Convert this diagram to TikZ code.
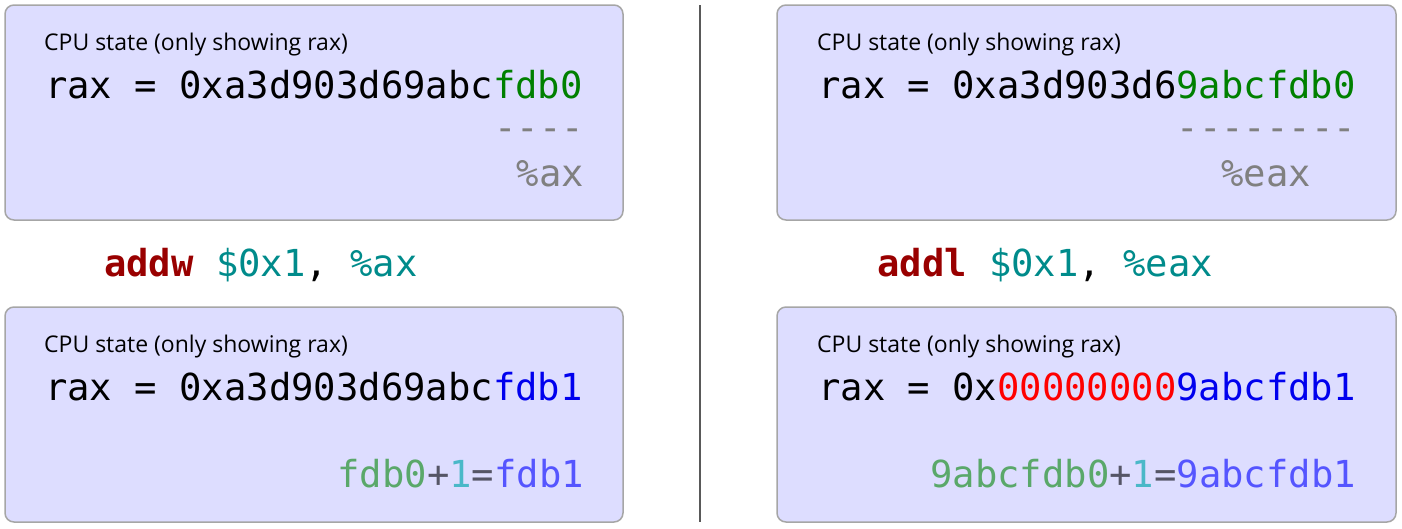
\documentclass[tikz,border=0pt]{standalone}
\usepackage{fontspec}
\setmainfont{Open Sans}
\newfontfamily\dmono{DejaVu Sans Mono}
\begin{document}
\begin{tikzpicture}[x=1pt,y=-1pt,
  box/.style={draw=black!35,line width=1.5pt,fill={rgb,255:red,221;green,221;blue,255},rounded corners=9pt},
  t/.style={inner sep=0pt,anchor=base west},
  tr/.style={inner sep=0pt,anchor=base east},
  hdr/.style={t,font=\fontsize{23}{26}\selectfont},
  code/.style={font=\dmono\fontsize{37.2}{40}\selectfont}]
\definecolor{gr}{RGB}{0,128,0}
\definecolor{dk}{RGB}{153,0,0}
\definecolor{tl}{RGB}{0,139,139}
\definecolor{lg}{RGB}{90,168,106}
\definecolor{op}{RGB}{85,85,102}
\definecolor{cy}{RGB}{74,184,200}
\definecolor{lb}{RGB}{85,85,255}
\definecolor{bl}{RGB}{0,0,238}
\definecolor{gy}{RGB}{128,128,128}
\path[use as bounding box] (0,0) rectangle (1402,528);
\draw[box] (5,5) rectangle (623,220) node[pos=0,inner sep=0pt] (b1) {};
\draw[box] (5,307) rectangle (623,522) node[pos=0,inner sep=0pt] (b2) {};
\draw[box] (777,5) rectangle (1396,220) node[pos=0,inner sep=0pt] (b3) {};
\draw[box] (777,307) rectangle (1396,522) node[pos=0,inner sep=0pt] (b4) {};
\draw[black!65,line width=1.2pt] (700,5) coordinate (d1) -- (700,522) coordinate (d2);
% left top
\node[hdr] (h1) at (44,50) {CPU state (only showing rax)};
\node[t,code] (r1) at (45,98) {rax = 0xa3d903d69abc\textcolor{gr}{fdb0}};
\node[tr,code,text=gy] (s1) at (584,140) {----};
\node[tr,code,text=gy] (a1) at (584,186) {\%ax};
\node[t,code] (i1) at (104,276) {\textcolor{dk}{\bfseries addw} \textcolor{tl}{\$0x1}, \textcolor{tl}{\%ax}};
% left bottom
\node[hdr] (h2) at (44,352) {CPU state (only showing rax)};
\node[t,code] (r2) at (45,400) {rax = 0xa3d903d69abc\textcolor{bl}{fdb1}};
\node[tr,code] (e2) at (584,487) {\textcolor{lg}{fdb0}\textcolor{op}{+}\textcolor{cy}{1}\textcolor{op}{=}\textcolor{lb}{fdb1}};
% right top
\node[hdr] (h3) at (817,50) {CPU state (only showing rax)};
\node[t,code] (r3) at (818,98) {rax = 0xa3d903d6\textcolor{gr}{9abcfdb0}};
\node[tr,code,text=gy] (s3) at (1356,140) {--------};
\node[tr,code,text=gy] (a3) at (1311,186) {\%eax};
\node[t,code] (i3) at (877,276) {\textcolor{dk}{\bfseries addl} \textcolor{tl}{\$0x1}, \textcolor{tl}{\%eax}};
% right bottom
\node[hdr] (h4) at (817,352) {CPU state (only showing rax)};
\node[t,code] (r4) at (818,400) {rax = 0x\textcolor{red}{00000000}\textcolor{bl}{9abcfdb1}};
\node[tr,code] (e4) at (1356,487) {\textcolor{lg}{9abcfdb0}\textcolor{op}{+}\textcolor{cy}{1}\textcolor{op}{=}\textcolor{lb}{9abcfdb1}};
\end{tikzpicture}
\end{document}
